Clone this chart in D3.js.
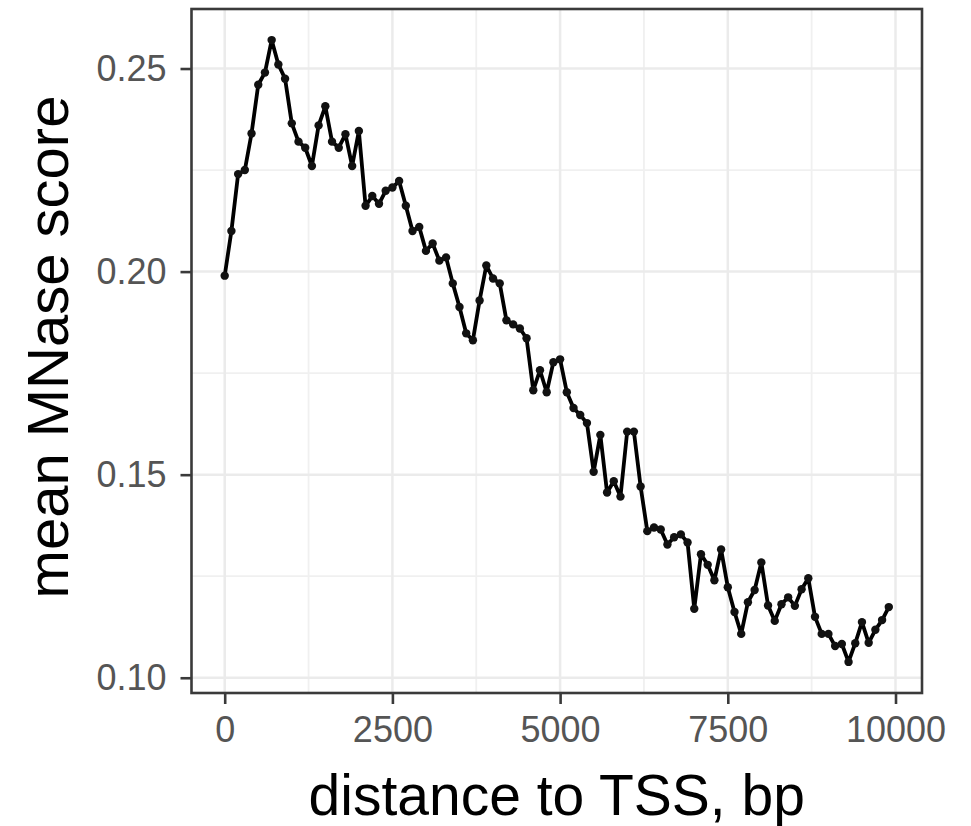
<!DOCTYPE html>
<html>
<head>
<meta charset="utf-8">
<script src="https://cdn.jsdelivr.net/npm/d3@7"></script>
<style>
  body { margin: 0; background: #fff; }
  text { font-family: "Liberation Sans", Arial, Helvetica, sans-serif; }
</style>
</head>
<body>
<script>
// distance to TSS (bp), one point every 100 bp
var distance = d3.range(0, 10000, 100);

// mean MNase score
var score = [
	0.199, 0.210, 0.224, 0.225, 0.234, 0.246, 0.249, 0.257, 0.251, 0.2475,
	0.2365, 0.232, 0.2305, 0.226, 0.236, 0.2407, 0.232, 0.2305, 0.2338, 0.226,
	0.2346, 0.2162, 0.2186, 0.2167, 0.2199, 0.2207, 0.2223, 0.2162, 0.210, 0.211,
	0.2051, 0.2069, 0.2027, 0.2035, 0.1971, 0.1913, 0.1848, 0.1831, 0.1929, 0.2015,
	0.1983, 0.1971, 0.188, 0.187, 0.186, 0.1836, 0.1708, 0.1757, 0.1703, 0.1777,
	0.1784, 0.1703, 0.1664, 0.1647, 0.1627, 0.1507, 0.1598, 0.1456, 0.1484, 0.1446,
	0.1606, 0.1606, 0.1471, 0.1361, 0.137, 0.1365, 0.1328, 0.1346, 0.1353, 0.1333,
	0.117, 0.1304, 0.1278, 0.124, 0.1316, 0.1223, 0.1162, 0.1108, 0.1186, 0.1216,
	0.1284, 0.1178, 0.114, 0.1181, 0.1198, 0.1177, 0.1218, 0.1245, 0.115, 0.1108,
	0.1108, 0.1078, 0.1083, 0.1039, 0.1085, 0.1137, 0.1086, 0.1118, 0.1142, 0.1174
];

var xTicks = [0, 2500, 5000, 7500, 10000];
var xMinor = [1250, 3750, 6250, 8750];
var yTicks = [0.10, 0.15, 0.20, 0.25];
var yMinor = [0.125, 0.175, 0.225];

var width = 971, height = 826;
var panel = {left: 191.5, right: 922, top: 9, bottom: 693};

var svg = d3.select('body').append('svg')
	.attr('width', width)
	.attr('height', height);

// ggplot-style 5% expansion of the data range
var xExt = d3.extent(distance), yExt = d3.extent(score);
var xPad = (xExt[1] - xExt[0]) * 0.05, yPad = (yExt[1] - yExt[0]) * 0.05;

var x = d3.scaleLinear()
	.domain([xExt[0] - xPad, xExt[1] + xPad])
	.range([panel.left, panel.right]);
var y = d3.scaleLinear()
	.domain([yExt[0] - yPad, yExt[1] + yPad])
	.range([panel.bottom, panel.top]);

var data = distance.map(function(d, i) { return {x: d, y: score[i]}; });

// grid
var grid = svg.append('g');
grid.selectAll('line.xminor').data(xMinor).enter().append('line')
	.attr('x1', function(d) { return x(d); }).attr('x2', function(d) { return x(d); })
	.attr('y1', panel.top).attr('y2', panel.bottom)
	.attr('stroke', '#f0f0f0').attr('stroke-width', 1.8);
grid.selectAll('line.yminor').data(yMinor).enter().append('line')
	.attr('y1', function(d) { return y(d); }).attr('y2', function(d) { return y(d); })
	.attr('x1', panel.left).attr('x2', panel.right)
	.attr('stroke', '#f0f0f0').attr('stroke-width', 1.8);
grid.selectAll('line.xmajor').data(xTicks).enter().append('line')
	.attr('x1', function(d) { return x(d); }).attr('x2', function(d) { return x(d); })
	.attr('y1', panel.top).attr('y2', panel.bottom)
	.attr('stroke', '#ebebeb').attr('stroke-width', 2.5);
grid.selectAll('line.ymajor').data(yTicks).enter().append('line')
	.attr('y1', function(d) { return y(d); }).attr('y2', function(d) { return y(d); })
	.attr('x1', panel.left).attr('x2', panel.right)
	.attr('stroke', '#ebebeb').attr('stroke-width', 2.5);

// line + points
var line = d3.line()
	.x(function(d) { return x(d.x); })
	.y(function(d) { return y(d.y); });

svg.append('path')
	.datum(data)
	.attr('d', line)
	.attr('fill', 'none')
	.attr('stroke', '#000')
	.attr('stroke-width', 3.8)
	.attr('stroke-linejoin', 'round');

svg.selectAll('circle')
	.data(data)
	.enter()
	.append('circle')
	.attr('cx', function(d) { return x(d.x); })
	.attr('cy', function(d) { return y(d.y); })
	.attr('r', 4.2)
	.attr('fill', '#111');

// panel border
svg.append('rect')
	.attr('x', panel.left).attr('y', panel.top)
	.attr('width', panel.right - panel.left)
	.attr('height', panel.bottom - panel.top)
	.attr('fill', 'none')
	.attr('stroke', '#3a3a3a')
	.attr('stroke-width', 2.6);

// axes
var xAxis = d3.axisBottom(x).tickValues(xTicks).tickSize(11).tickPadding(12)
	.tickFormat(d3.format('d'));
var yAxis = d3.axisLeft(y).tickValues(yTicks).tickSize(11).tickPadding(14)
	.tickFormat(d3.format('.2f'));

var gx = svg.append('g')
	.attr('transform', 'translate(0,' + panel.bottom + ')')
	.call(xAxis);
var gy = svg.append('g')
	.attr('transform', 'translate(' + panel.left + ',0)')
	.call(yAxis);

[gx, gy].forEach(function(g) {
	g.select('.domain').remove();
	g.selectAll('.tick line').attr('stroke', '#3a3a3a').attr('stroke-width', 2.6);
	g.selectAll('.tick text')
		.attr('fill', '#555555')
		.style('font-size', '36px')
		.style('font-family', '"Liberation Sans", Arial, sans-serif');
});

// axis titles
svg.append('text')
	.attr('x', (panel.left + panel.right) / 2)
	.attr('y', 815)
	.attr('text-anchor', 'middle')
	.style('font-size', '57px')
	.attr('fill', '#000')
	.text('distance to TSS, bp');

svg.append('text')
	.attr('transform', 'translate(68,' + ((panel.top + panel.bottom) / 2 - 4) + ') rotate(-90)')
	.attr('text-anchor', 'middle')
	.style('font-size', '58px')
	.attr('fill', '#000')
	.text('mean MNase score');
</script>
</body>
</html>
